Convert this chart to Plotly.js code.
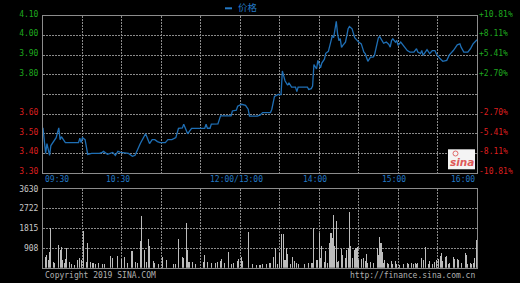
<!DOCTYPE html>
<html>
<head>
<meta charset="utf-8">
<script src="https://cdn.plot.ly/plotly-3.0.1.min.js"></script>
<style>
html,body{margin:0;padding:0;background:#000;}
#chart{width:520px;height:283px;}
</style>
</head>
<body>
<div id="chart"></div>
<script>
// ---- data (minutes since 09:30, lunch break removed) ----
var seriesName = '价格';
var prevClose = 3.70;
var priceT = [0,2,3,5,6,8,10,12,13,14,16,17,27,28,29,30,32,34,37,43,45,46,49,53,55,57,59,65,68,70,74,78,81,83,85,87,89,93,95,98,101,103,106,107,110,112,113,123,124,125,127,128,133,135,143,144,147,148,151,154,156,157,163,165,167,173,174,176,179,181,182,184,186,187,189,192,193,194,201,202,204,205,206,208,209,211,212,214,215,217,218,220,221,223,224,225,226,227,228,230,231,232,233,235,237,239,240,242,244,245,246,247,249,251,252,254,255,256,258,259,261,263,264,265,266,268,269,270,272,274,277,279,282,284,285,287,288,289,290,292,294,296,298,299,302,304,307,309,312,315,317,318,320,323,325,327,330];
var priceV = [3.53,3.40,3.45,3.39,3.44,3.46,3.48,3.53,3.47,3.485,3.46,3.455,3.455,3.478,3.455,3.48,3.47,3.395,3.40,3.40,3.405,3.41,3.395,3.405,3.39,3.41,3.405,3.40,3.385,3.39,3.45,3.50,3.45,3.47,3.47,3.46,3.455,3.455,3.47,3.47,3.48,3.527,3.53,3.549,3.50,3.515,3.527,3.528,3.549,3.528,3.528,3.549,3.55,3.591,3.591,3.616,3.62,3.64,3.65,3.645,3.625,3.59,3.59,3.595,3.608,3.608,3.625,3.69,3.70,3.70,3.82,3.77,3.747,3.76,3.738,3.738,3.715,3.738,3.738,3.726,3.73,3.743,3.853,3.83,3.874,3.836,3.86,3.88,3.91,3.92,3.95,4.00,3.99,4.073,4.009,3.975,3.985,3.94,3.95,3.967,4.00,4.035,4.046,4.035,3.99,3.975,3.967,3.958,3.916,3.908,3.882,3.869,3.89,3.89,3.899,3.958,3.989,3.995,3.975,3.961,3.967,3.955,3.941,3.975,3.984,3.967,3.975,3.95,3.967,3.95,3.924,3.916,3.916,3.933,3.916,3.908,3.924,3.899,3.908,3.928,3.908,3.924,3.924,3.908,3.882,3.869,3.874,3.902,3.924,3.953,3.958,3.94,3.916,3.916,3.933,3.958,3.979];
var volT = [2,3,4,5,6,8,9,12,13,14,15,16,17,18,20,22,24,26,28,29,31,33,34,36,38,40,42,45,47,51,53,57,60,62,64,67,68,70,72,74,75,77,79,80,81,84,85,88,91,94,99,101,103,106,107,109,110,111,114,116,122,123,125,128,131,133,135,136,138,141,143,145,148,149,151,152,156,159,162,165,167,170,172,173,175,177,178,180,181,183,184,185,186,188,190,191,193,194,199,202,204,205,206,208,209,210,211,212,214,215,216,218,219,220,221,222,223,224,225,227,228,230,231,232,233,234,235,237,238,239,240,242,244,245,246,247,249,251,254,255,256,257,258,259,260,262,263,265,266,268,269,271,274,277,278,280,282,283,284,285,288,289,291,293,294,296,298,299,301,302,303,304,306,307,308,309,312,313,315,316,318,321,322,323,325,326,327,328,330];
var volV = [480,585,355,740,1815,275,200,1045,815,970,355,200,385,895,275,170,125,355,430,355,1705,275,1150,260,215,170,215,170,170,540,430,540,385,480,215,770,785,260,215,1230,2383,815,260,1310,1000,310,230,170,480,355,170,170,1310,480,430,2045,815,275,260,170,275,585,260,215,215,275,310,385,215,710,170,215,325,385,480,310,1660,170,125,125,170,170,215,200,480,895,170,665,1540,1540,355,895,630,170,480,325,215,170,170,215,230,215,1815,355,355,1585,430,1000,275,785,230,1150,1585,1355,2430,1000,2150,275,325,850,585,430,815,895,2555,1000,430,815,895,940,355,400,430,325,630,230,275,215,895,585,1400,1125,740,215,355,230,170,325,170,325,170,125,170,215,170,215,170,215,170,215,430,355,970,170,325,170,275,355,385,540,665,325,480,540,170,215,480,400,400,355,215,690,585,170,215,170,215,430,1275];
var priceTicks = [3.30,3.40,3.50,3.60,3.70,3.80,3.90,4.00,4.10];
var volMax = 3630;
var volTickText = ['908','1815','2722','3630'];
var xTickVals = [0,60,150,210,270,330];
var xTickText = ['09:30','10:30','12:00/13:00','14:00','15:00','16:00'];
var gridVals = [0,30,60,90,120,150,180,210,240,270,300,330];
var copyrightText = 'Copyright 2019 SINA.COM';
var sourceText = 'http://finance.sina.com.cn';

// ---- styling ----
var GREEN = '#1fa81f', RED = '#dd1f1f', BLUE = '#2378c4', LINE = '#1f6fb5';
var GRID = '#8a8a8a', BORDER = '#8c8c8c';
var MONO = 'DejaVu Sans Mono, Liberation Mono, monospace';

function colorOf(p){ return p > prevClose + 1e-9 ? GREEN : (p < prevClose - 1e-9 ? RED : null); }
var leftText = priceTicks.map(function(p){
  var c = colorOf(p); if(!c) return '';
  return '<span style="color:' + c + '">' + p.toFixed(2) + '</span>';
});
var rightText = priceTicks.map(function(p){
  var c = colorOf(p); if(!c) return '';
  var pct = (p - prevClose) / prevClose * 100;
  return '<span style="color:' + c + '">' + (pct > 0 ? '+' : '') + pct.toFixed(2) + '%</span>';
});
var volTickVals = volTickText.map(function(t, i){ return volMax * (i + 1) / volTickText.length; });

var XDOM = [43/520, 477/520];
var traces = [
  {x: priceT, y: priceV, type: 'scatter', mode: 'lines', name: seriesName,
   line: {color: LINE, width: 1.3}, xaxis: 'x', yaxis: 'y', hoverinfo: 'skip'},
  {x: [priceT[0]], y: [prevClose], type: 'scatter', mode: 'markers', marker: {opacity: 0},
   xaxis: 'x', yaxis: 'y3', hoverinfo: 'skip'},
  {x: volT, y: volV, type: 'bar', width: 0.8, marker: {color: '#bcbcbc', line: {width: 0}},
   xaxis: 'x2', yaxis: 'y2', hoverinfo: 'skip'}
];

var axX = {
  domain: XDOM, range: [0, 330], tickvals: gridVals, showticklabels: false, ticks: '',
  showgrid: true, gridcolor: GRID, griddash: '2px,1px', gridwidth: 1,
  showline: true, mirror: true, linecolor: BORDER, linewidth: 1, zeroline: false, fixedrange: true
};
var annotations = xTickVals.map(function(v, i){
  var anchor = i === 0 ? 'left' : (i === xTickVals.length - 1 ? 'right' : 'center');
  return {x: v, xref: 'x', y: (283 - 179) / 283, yref: 'paper', yanchor: 'middle', xanchor: anchor,
    xshift: anchor === 'center' ? -4 : 0, text: xTickText[i], showarrow: false,
    font: {family: MONO, size: 8, color: BLUE}};
});
annotations.push({x: 43/520, xref: 'paper', xanchor: 'left', y: (283 - 275) / 283, yref: 'paper', yanchor: 'middle',
  text: copyrightText, showarrow: false, font: {family: MONO, size: 8, color: '#b0b0b0'}});
annotations.push({x: 477/520, xref: 'paper', xanchor: 'right', y: (283 - 275) / 283, yref: 'paper', yanchor: 'middle',
  text: sourceText, showarrow: false, font: {family: MONO, size: 8, color: '#b0b0b0'}});
annotations.push({x: 236/520, xref: 'paper', xanchor: 'left', y: (283 - 7.5) / 283, yref: 'paper', yanchor: 'middle',
  text: seriesName, showarrow: false, font: {family: 'Noto Sans CJK SC', size: 9.5, color: BLUE}});
annotations.push({x: 462/520, xref: 'paper', xanchor: 'center', y: (283 - 161.5) / 283, yref: 'paper', yanchor: 'middle',
  text: '<i><b>sina</b></i>', showarrow: false, font: {family: 'DejaVu Sans', size: 10.5, color: '#e05a5a'}});

var layout = {
  width: 520, height: 283, margin: {l: 0, r: 0, t: 0, b: 0},
  paper_bgcolor: '#000000', plot_bgcolor: '#000000', showlegend: false,
  xaxis: Object.assign({}, axX, {anchor: 'y'}),
  xaxis2: Object.assign({}, axX, {anchor: 'y2'}),
  yaxis: {domain: [(283 - 173) / 283, (283 - 16) / 283], range: [3.30, 4.10], tickvals: priceTicks, ticktext: leftText,
    ticks: '', ticklabelstandoff: 2, ticklabelshift: -2, tickfont: {family: MONO, size: 8, color: GREEN},
    showgrid: true, gridcolor: GRID, griddash: '2px,1px', gridwidth: 1,
    showline: true, mirror: true, linecolor: BORDER, zeroline: false, anchor: 'x', fixedrange: true},
  yaxis3: {overlaying: 'y', side: 'right', anchor: 'x', range: [3.30, 4.10], tickvals: priceTicks, ticktext: rightText,
    ticks: '', ticklabelstandoff: 1, ticklabelshift: -2, tickfont: {family: MONO, size: 8, color: GREEN},
    showgrid: false, zeroline: false, showline: false, fixedrange: true},
  yaxis2: {domain: [(283 - 267.7) / 283, (283 - 189) / 283], range: [0, volMax], tickvals: volTickVals, ticktext: volTickText,
    ticks: '', ticklabelstandoff: 2, ticklabelshift: -2.5, tickfont: {family: MONO, size: 8, color: '#c8c8c8'},
    showgrid: true, gridcolor: GRID, griddash: '2px,1px', gridwidth: 1,
    showline: true, mirror: true, linecolor: BORDER, zeroline: false, anchor: 'x2', fixedrange: true},
  shapes: [
    {type: 'line', xref: 'paper', yref: 'paper', x0: 225/520, x1: 232/520, y0: (283 - 8.3) / 283, y1: (283 - 8.3) / 283,
     line: {color: BLUE, width: 2}},
    {type: 'rect', xref: 'paper', yref: 'paper', x0: 448/520, x1: 475/520, y0: (283 - 169.3) / 283, y1: (283 - 149.3) / 283,
     fillcolor: '#f4f4f4', line: {width: 0}},
    {type: 'circle', xref: 'paper', yref: 'paper', x0: 453/520, x1: 458/520, y0: (283 - 156) / 283, y1: (283 - 151) / 283,
     fillcolor: 'rgba(0,0,0,0)', line: {color: '#e06a6a', width: 1}}
  ],
  annotations: annotations,
  bargap: 0
};

Plotly.newPlot('chart', traces, layout, {staticPlot: true, displayModeBar: false});
</script>
</body>
</html>
